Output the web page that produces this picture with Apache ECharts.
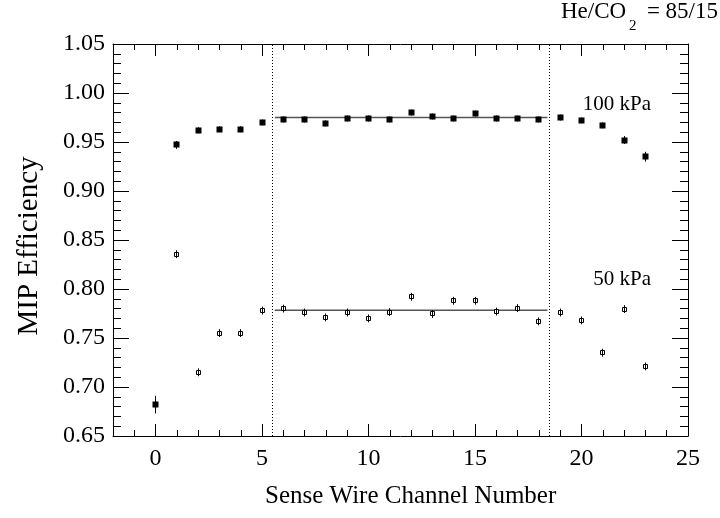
<!DOCTYPE html>
<html>
<head>
<meta charset="utf-8">
<script src="https://cdn.jsdelivr.net/npm/echarts@6/dist/echarts.min.js"></script>
<style>
html,body{margin:0;padding:0;background:#fff;}
#chart{width:720px;height:518px;}
</style>
</head>
<body>
<div id="chart"></div>
<script>
// ---- data ----
const channels100 = [0,1,2,3,4,5,6,7,8,9,10,11,12,13,14,15,16,17,18,19,20,21,22,23];
const eff100 = [0.682,0.947,0.962,0.963,0.963,0.970,0.973,0.973,0.969,0.974,0.974,0.973,0.980,0.976,0.974,0.979,0.974,0.974,0.973,0.975,0.972,0.967,0.952,0.935];
const err100 = [0.009,0.004,0.003,0.003,0.003,0.003,0.003,0.003,0.003,0.003,0.003,0.003,0.003,0.003,0.003,0.003,0.003,0.003,0.003,0.003,0.003,0.003,0.004,0.005];
const channels50 = [1,2,3,4,5,6,7,8,9,10,11,12,13,14,15,16,17,18,19,20,21,22,23];
const eff50 = [0.8355,0.715,0.755,0.755,0.778,0.780,0.776,0.771,0.776,0.770,0.7765,0.792,0.7745,0.788,0.788,0.777,0.7805,0.767,0.776,0.768,0.735,0.7795,0.721];
const err50 = [0.004,0.004,0.004,0.004,0.004,0.004,0.004,0.004,0.004,0.004,0.004,0.004,0.004,0.004,0.004,0.004,0.004,0.004,0.004,0.004,0.004,0.004,0.004];
const fitRange = [5.6, 18.4];
const fit100 = 0.975;
const fit50 = 0.7782;
const boundaries = [5.5, 18.5];
const xRange = [-2, 25];
const xTickLabels = ['0','5','10','15','20','25'];
const yTickLabels = ['0.65','0.70','0.75','0.80','0.85','0.90','0.95','1.00','1.05'];

const FONT = '"Liberation Serif","DejaVu Serif",serif';
const GL = 113, GR = 32, GT = 44, GB = 82, W = 720;
const unitPx = (W - GL - GR) / (xRange[1] - xRange[0]);
const GL2 = GL + (0 - xRange[0]) * unitPx;

function errSeries(name, xs, ys, es, filled) {
  return {
    type: 'custom',
    name: name,
    xAxisIndex: 0, yAxisIndex: 0,
    data: xs.map((x, i) => [x, ys[i], es[i]]),
    encode: { x: 0, y: 1 },
    z: 5,
    renderItem: function (params, api) {
      const x = api.value(0), y = api.value(1), e = api.value(2);
      const p = api.coord([x, y]);
      const lo = api.coord([x, y - e]);
      const hi = api.coord([x, y + e]);
      const c = Math.round(p[0] - 0.5);
      const r = Math.round(p[1] - 0.5);
      const children = [];
      children.push({
        type: 'line',
        shape: { x1: c + 0.5, y1: lo[1], x2: c + 0.5, y2: hi[1] },
        style: { stroke: '#000', lineWidth: 1 }
      });
      if (filled) {
        children.push({
          type: 'rect',
          shape: { x: c - 2.5, y: r - 2.5, width: 6, height: 6 },
          style: { fill: '#000', stroke: null }
        });
      } else {
        children.push({
          type: 'rect',
          shape: { x: c - 1.5, y: r - 1.5, width: 4, height: 4 },
          style: { fill: '#fff', stroke: '#000', lineWidth: 1 }
        });
        children.push({
          type: 'line',
          shape: { x1: c + 0.5, y1: r - 1, x2: c + 0.5, y2: r + 2 },
          style: { stroke: '#000', lineWidth: 1 }
        });
      }
      return { type: 'group', children: children };
    }
  };
}

const chart = echarts.init(document.getElementById('chart'), null, { renderer: 'canvas' });

function xMinor(pos) {
  return {
    type: 'value', gridIndex: 0, position: pos, min: xRange[0], max: xRange[1], interval: 1,
    axisLine: { show: true, onZero: false, lineStyle: { color: '#000', width: 1 } },
    axisTick: { show: true, inside: true, length: 6, lineStyle: { color: '#000' } },
    axisLabel: { show: false },
    splitLine: { show: false }
  };
}
function xMajor(pos, labels) {
  return {
    type: 'value', gridIndex: 1, position: pos, min: 0, max: xRange[1], interval: 5,
    axisLine: { show: false, onZero: false },
    axisTick: { show: true, inside: true, length: 12, lineStyle: { color: '#000' } },
    axisLabel: labels ? {
      show: true, margin: 11, color: '#000', fontFamily: FONT, fontSize: 24,
      formatter: function (v) { const s = String(Math.round(v)); return xTickLabels.indexOf(s) >= 0 ? s : ''; }
    } : { show: false },
    splitLine: { show: false }
  };
}
function yAx(pos, labels) {
  return {
    type: 'value', gridIndex: 0, position: pos, min: 0.65, max: 1.05, interval: 0.05,
    axisLine: { show: true, onZero: false, lineStyle: { color: '#000', width: 1 } },
    axisTick: { show: true, inside: true, length: 16, lineStyle: { color: '#000' } },
    minorTick: { show: true, splitNumber: 5, length: 8, lineStyle: { color: '#000' } },
    axisLabel: labels ? {
      show: true, margin: 8, color: '#000', fontFamily: FONT, fontSize: 24,
      formatter: function (v) { const s = v.toFixed(2); return yTickLabels.indexOf(s) >= 0 ? s : ''; }
    } : { show: false },
    splitLine: { show: false }
  };
}

const option = {
  animation: false,
  backgroundColor: '#fff',
  grid: [
    { left: GL, right: GR, top: GT, bottom: GB, containLabel: false },
    { left: GL2, right: GR, top: GT, bottom: GB, containLabel: false }
  ],
  xAxis: [ xMinor('bottom'), xMinor('top'), xMajor('bottom', true), xMajor('top', false) ],
  yAxis: [ yAx('left', true), yAx('right', false),
    { type: 'value', gridIndex: 1, min: 0.65, max: 1.05, show: false } ],
  series: [
    {
      type: 'line', name: 'fit100', xAxisIndex: 0, yAxisIndex: 0,
      data: [[fitRange[0], fit100], [fitRange[1], fit100]],
      symbol: 'none', lineStyle: { color: '#555', width: 1.5 }, z: 3,
      markLine: {
        silent: true, symbol: 'none',
        label: { show: false },
        lineStyle: { color: '#000', type: [1, 2], width: 1 },
        data: boundaries.map(b => ({ xAxis: b }))
      }
    },
    {
      type: 'line', name: 'fit50', xAxisIndex: 0, yAxisIndex: 0,
      data: [[fitRange[0], fit50], [fitRange[1], fit50]],
      symbol: 'none', lineStyle: { color: '#555', width: 1.5 }, z: 3
    },
    errSeries('100 kPa', channels100, eff100, err100, true),
    errSeries('50 kPa', channels50, eff50, err50, false)
  ],
  graphic: [
    { type: 'text', right: 69, top: 94, style: { text: '100 kPa', font: '21px ' + FONT, fill: '#000' } },
    { type: 'text', right: 69, top: 269, style: { text: '50 kPa', font: '21px ' + FONT, fill: '#000' } },
    { type: 'text', left: 561, top: 0, style: { text: 'He/CO', font: '23px ' + FONT, fill: '#000' } },
    { type: 'text', left: 629, top: 19, style: { text: '2', font: '15px ' + FONT, fill: '#000' } },
    { type: 'text', right: 2, top: 0, style: { text: '= 85/15', font: '23px ' + FONT, fill: '#000' } },
    { type: 'text', left: 265, top: 484, style: { text: 'Sense Wire Channel Number', font: '25px ' + FONT, fill: '#000' } },
    { type: 'text', x: 29, y: 246, rotation: Math.PI / 2,
      style: { text: 'MIP Efficiency', font: '29px ' + FONT, fill: '#000', align: 'center', verticalAlign: 'middle' } }
  ]
};
chart.setOption(option);
</script>
</body>
</html>
